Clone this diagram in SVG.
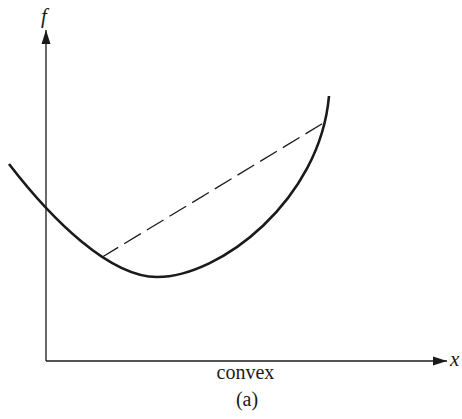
<svg xmlns="http://www.w3.org/2000/svg" width="462" height="419" viewBox="0 0 462 419">
<style>
.axis{stroke:#1a1a1a;stroke-width:1.3;fill:none}
.curve{stroke:#1a1a1a;stroke-width:2.6;fill:none;stroke-linecap:butt}
.chord{stroke:#1a1a1a;stroke-width:1.3;fill:none;stroke-dasharray:19.5 7}
text{font-family:"Liberation Serif","Times New Roman",serif;fill:#1a1a1a}
.it{font-style:italic}
</style>
<defs>
<marker id="ah" markerWidth="14" markerHeight="10" refX="14" refY="5" orient="auto" markerUnits="userSpaceOnUse">
<path d="M0,0.5 L14,5 L0,9.5 Z" fill="#1a1a1a"/>
</marker>
</defs>
<rect width="462" height="419" fill="#fff"/>
<g id="connectors">
<line class="axis" x1="46" y1="361" x2="46" y2="30" marker-end="url(#ah)"/>
<line class="axis" x1="46" y1="361" x2="447" y2="361" marker-end="url(#ah)"/>
<line class="chord" x1="101.5" y1="257.5" x2="323.5" y2="123"/>
</g>
<g id="curve">
<path class="curve" d="M9,164 C52,220 110,277 157,277 C220,277 320,200 329,96"/>
</g>
<g id="labels">
<text class="it" x="41" y="23" font-size="21">f</text>
<text class="it" x="450" y="366" font-size="21">x</text>
<text x="245.5" y="379" font-size="20" text-anchor="middle">convex</text>
<text x="247" y="406" font-size="20" text-anchor="middle">(a)</text>
</g>
</svg>
